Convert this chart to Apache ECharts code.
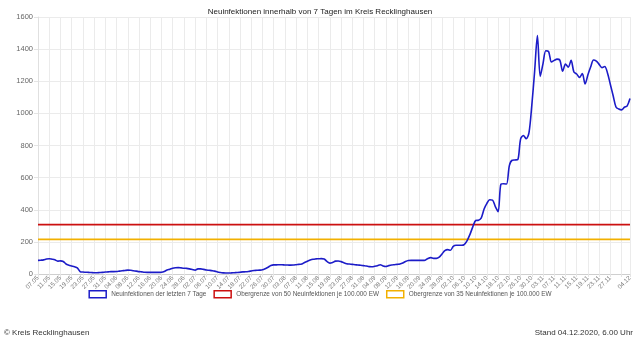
<!DOCTYPE html>
<html><head><meta charset="utf-8">
<script src="https://cdn.jsdelivr.net/npm/echarts@6/dist/echarts.min.js"></script>
<style>html,body{margin:0;padding:0;background:#fff}#c{width:640px;height:346px}</style>
</head><body><div id="c"></div>
<script>
const startDate = [2020, 4, 7]; // 07.05.2020
const dayCount = 212;
const yTicks = [0, 200, 400, 600, 800, 1000, 1200, 1400, 1600];
const cases7 = [
85,86,88,93,95,92,88,80,82,78,62,55,50,45,38,15,12,11,10,9,
8,8,9,10,12,13,15,15,16,18,20,22,24,23,20,18,15,13,11,10,
10,10,10,10,11,16,25,30,36,39,40,38,36,35,32,28,24,32,32,29,
25,23,21,18,12,9,7,6,6,7,8,9,11,13,14,16,19,22,23,24,
26,33,42,53,57,57,58,58,56,56,55,56,58,60,62,72,80,87,92,94,
95,96,94,78,68,72,80,81,77,70,64,62,60,58,56,54,52,50,46,45,
48,52,58,50,47,52,56,58,60,62,68,78,84,85,85,85,85,85,86,97,
102,97,97,105,125,145,152,148,172,179,179,179,185,210,248,295,333,335,350,405,
440,462,460,420,388,560,562,560,675,708,710,712,840,862,842,880,1050,1260,1484,1230,
1310,1390,1385,1320,1330,1338,1332,1262,1307,1288,1330,1258,1245,1224,1248,1183,1240,1290,1332,1325,
1305,1285,1292,1250,1180,1110,1040,1027,1022,1038,1047,1092
];
const limit50 = 308;
const limit35 = 215;
const names = ['Neuinfektionen der letzten 7 Tage','Obergrenze von 50 Neuinfektionen je 100.000 EW','Obergrenze von 35 Neuinfektionen je 100.000 EW'];
const colors = ['#1c1cc8','#cc1010','#f2b000'];

const dates = [];
const d0 = new Date(startDate[0], startDate[1], startDate[2]);
for (let i = 0; i < dayCount; i++) {
  const d = new Date(d0.getFullYear(), d0.getMonth(), d0.getDate() + i);
  dates.push(String(d.getDate()).padStart(2,'0') + '.' + String(d.getMonth()+1).padStart(2,'0'));
}
const last = dayCount - 1;
const gridIdx = i => i % 4 === 0 || i === last;
const labelIdx = i => (i % 4 === 0 && i + 4 <= last) || i === last;

const chart = echarts.init(document.getElementById('c'), null, {renderer:'canvas'});
chart.setOption({
  animation:false,
  title:{text:'Neuinfektionen innerhalb von 7 Tagen im Kreis Recklinghausen', left:'center', top:3,
    textStyle:{fontSize:8, fontWeight:'normal', color:'#222', fontFamily:'Liberation Sans'}},
  grid:{left:38, right:10, top:17, bottom:72},
  legend:{top:285, left:'center', icon:'rect', itemWidth:17, itemHeight:7, itemGap:7, itemTextGap:5,
    textStyle:{fontSize:6.4, color:'#555', fontFamily:'Liberation Sans'},
    data:names.map((n,k)=>({name:n, itemStyle:{color:'#fff', borderColor:colors[k], borderWidth:1.5}}))},
  xAxis:{type:'category', data:dates, boundaryGap:false,
    axisLine:{show:true, lineStyle:{color:'#cfcfcf'}},
    axisTick:{show:true, interval:gridIdx, length:3, lineStyle:{color:'#e4e4e4'}},
    axisLabel:{interval:labelIdx, rotate:45, fontSize:6.3, color:'#777', fontFamily:'Liberation Sans', margin:3},
    splitLine:{show:true, interval:gridIdx, lineStyle:{color:'#ebebeb', width:1}}},
  yAxis:{type:'value', min:yTicks[0], max:yTicks[yTicks.length-1], interval:200,
    axisLine:{show:true, lineStyle:{color:'#e0e0e0'}},
    axisTick:{show:true, length:4, lineStyle:{color:'#e4e4e4'}},
    axisLabel:{fontSize:7.5, color:'#666', fontFamily:'Liberation Sans', margin:5, formatter:v=>String(v)},
    splitLine:{lineStyle:{color:'#ebebeb'}}},
  series:[
    {name:names[0], type:'line', data:cases7, smooth:0.3, showSymbol:false, z:5,
      lineStyle:{color:colors[0], width:1.6}, itemStyle:{color:colors[0]}},
    {name:names[1], type:'line', data:dates.map(()=>limit50), showSymbol:false, z:3,
      lineStyle:{color:colors[1], width:1.7}, itemStyle:{color:colors[1]}},
    {name:names[2], type:'line', data:dates.map(()=>limit35), showSymbol:false, z:3,
      lineStyle:{color:colors[2], width:1.7}, itemStyle:{color:colors[2]}}
  ],
  graphic:[
    {type:'text', left:4, top:329, style:{text:'© Kreis Recklinghausen', fontSize:8, fill:'#333', fontFamily:'Liberation Sans'}},
    {type:'text', right:7, top:329, style:{text:'Stand 04.12.2020, 6.00 Uhr', fontSize:8, fill:'#333', fontFamily:'Liberation Sans'}}
  ]
});
</script></body></html>
